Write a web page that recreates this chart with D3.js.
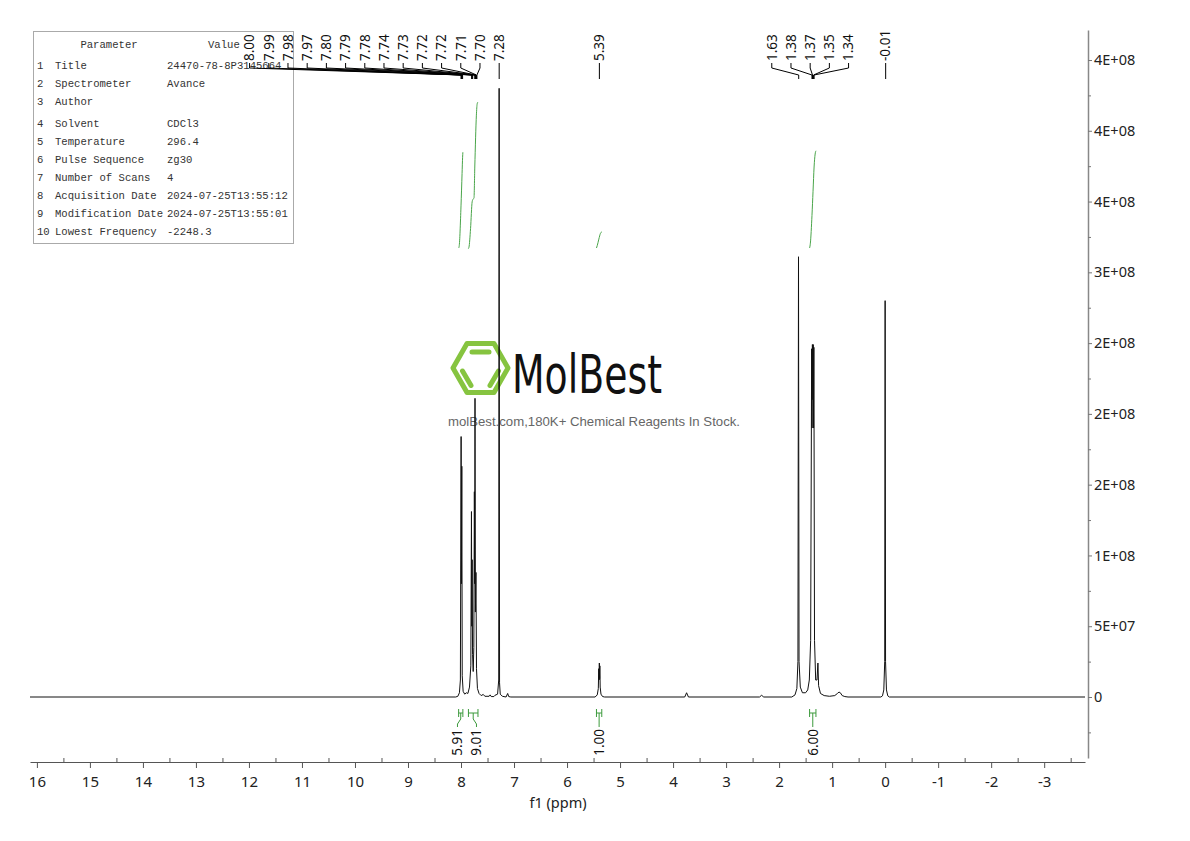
<!DOCTYPE html>
<html>
<head>
<meta charset="utf-8">
<script src="https://cdn.jsdelivr.net/npm/d3@7"></script>
<style>
  body { margin: 0; background: #fff; }
  text { font-family: "Noto Sans", "DejaVu Sans", sans-serif; }
</style>
</head>
<body>
<svg id="chart" width="1190" height="841"></svg>
<script>
// ---- spectrum trace: [ppm, intensity]
const aromaticTrace = [
  [8.10, 0], [8.06, 0.5e6], [8.03, 3e6], [8.012, 1.2e7], [7.998, 1.84e8], [7.992, 8e7],
  [7.985, 1.63e8], [7.977, 1.5e7], [7.96, 4e6], [7.93, 2e6], [7.90, 3e6], [7.87, 2.5e6],
  [7.84, 7e6], [7.815, 2.2e7], [7.803, 1.31e8], [7.797, 5e7], [7.790, 9.7e7], [7.782, 3e7],
  [7.770, 1.8e7], [7.758, 3.5e7], [7.748, 1.45e8], [7.742, 8e7], [7.736, 2.11e8], [7.729, 6e7],
  [7.718, 8.8e7], [7.708, 2e7], [7.69, 6e6], [7.66, 2.5e6], [7.62, 1e6], [7.58, 1.8e6],
  [7.55, 0.5e6], [7.47, 0.5e6], [7.45, 1.5e6], [7.43, 0.3e6], [7.38, 0.3e6], [7.36, 1.2e6]
]
const solventTrace = [
  [7.31, 2e6], [7.289, 1.2e7], [7.281, 4.30e8], [7.273, 1.0e7], [7.26, 2e6], [7.22, 0.5e6],
  [7.15, 0], [7.12, 2.5e6], [7.10, 0.3e6], [7.06, 0]
]
const olefinTrace = [
  [5.47, 0], [5.43, 1.5e6], [5.41, 6e6], [5.402, 2.0e7], [5.396, 1.2e7], [5.391, 2.4e7],
  [5.386, 1.3e7], [5.381, 2.2e7], [5.375, 7e6], [5.36, 2e6], [5.33, 0.3e6], [5.29, 0]
]
const impurityTrace = [
  [3.78, 0], [3.745, 3e6], [3.71, 0], [2.37, 0], [2.33, 1.2e6], [2.29, 0]
]
const aliphaticTrace = [
  [1.76, 0], [1.70, 1.5e6], [1.665, 6e6], [1.645, 2.5e7], [1.634, 3.11e8], [1.624, 2.5e7],
  [1.60, 7e6], [1.56, 3e6], [1.50, 3e6], [1.46, 5e6], [1.43, 1.2e7], [1.405, 4e7],
  [1.386, 2.46e8], [1.378, 1.9e8], [1.372, 2.49e8], [1.362, 2.1e8], [1.356, 2.49e8],
  [1.350, 1.9e8], [1.344, 2.47e8], [1.332, 4e7], [1.31, 1.2e7], [1.285, 1.2e7],
  [1.268, 2.4e7], [1.255, 8e6], [1.22, 2.5e6], [1.15, 1e6], [1.05, 0.5e6], [0.95, 1e6],
  [0.90, 2.5e6], [0.87, 3.5e6], [0.845, 3e6], [0.81, 1e6], [0.76, 0.3e6], [0.70, 0]
]
const tmsTrace = [
  [0.08, 0], [0.05, 0.8e6], [0.025, 5e6], [0.008, 2.5e7], [0.0, 2.80e8], [-0.008, 2.5e7],
  [-0.025, 5e6], [-0.05, 0.8e6], [-0.08, 0]
]

// ---- peak picking labels
const peakLabels = ['8.00', '7.99', '7.98', '7.97', '7.80', '7.79', '7.78', '7.74', '7.73',
  '7.72', '7.72', '7.71', '7.70', '7.28', '5.39', '1.63', '1.38', '1.37', '1.35', '1.34', '-0.01']

// ---- integrals
const integralLabels = ['5.91', '9.01', '1.00', '6.00']
const integralRanges = [[8.045, 7.965], [7.86, 7.68], [5.445, 5.345], [1.425, 1.305]]
const integralCurves = [
  [[8.045, 0], [8.035, 0.1], [8.0, 2.6], [7.98, 4.6], [7.97, 5.6], [7.965, 5.91]],
  [[7.865, -0.05], [7.85, 0.05], [7.82, 1.2], [7.79, 2.85], [7.775, 3.0], [7.755, 3.1],
   [7.74, 5.0], [7.71, 8.2], [7.695, 8.9], [7.68, 9.01]],
  [[5.445, 0], [5.43, 0.15], [5.40, 0.55], [5.37, 0.9], [5.345, 1.0]],
  [[1.425, 0], [1.41, 0.3], [1.38, 2.0], [1.36, 3.5], [1.34, 5.0], [1.32, 5.8], [1.305, 6.0]]
]

// ---- axes
const ppmTicks = [16, 15, 14, 13, 12, 11, 10, 9, 8, 7, 6, 5, 4, 3, 2, 1, 0, -1, -2, -3]
const ppmMinorTicks = [15.5, 14.5, 13.5, 12.5, 11.5, 10.5, 9.5, 8.5, 7.5, 6.5, 5.5, 4.5, 3.5,
  2.5, 1.5, 0.5, -0.5, -1.5, -2.5, -3.5]
const yTickValues = [0, 5e7, 1e8, 1.5e8, 2e8, 2.5e8, 3e8, 3.5e8, 4e8, 4.5e8]
const yTickLabels = ['0', '5E+07', '1E+08', '2E+08', '2E+08', '2E+08', '3E+08', '4E+08', '4E+08', '4E+08']
const yMinorTicks = [-2.5e7, 2.5e7, 7.5e7, 1.25e8, 1.75e8, 2.25e8, 2.75e8, 3.25e8, 3.75e8, 4.25e8]

// ---- parameter table
const tableIndex = ['1', '2', '3', '4', '5', '6', '7', '8', '9', '10']
const tableNames = ['Title', 'Spectrometer', 'Author', 'Solvent', 'Temperature', 'Pulse Sequence',
  'Number of Scans', 'Acquisition Date', 'Modification Date', 'Lowest Frequency']
const tableValues = ['24470-78-8P3145664', 'Avance', '', 'CDCl3', '296.4', 'zg30', '4',
  '2024-07-25T13:55:12', '2024-07-25T13:55:01', '-2248.3']

const svg = d3.select('#chart')
const x = d3.scaleLinear().domain([16.13, -3.77]).range([30, 1085])
const y = d3.scaleLinear().domain([0, 4.5e8]).range([697, 60])
const yInt = d3.scaleLinear().domain([0, 10]).range([248, 86])

// spread overlapping labels: chain groups, centre them, push left if they hit the right neighbour
function spreadLabels(xs, gap) {
  const order = xs.map((v, i) => i).sort((a, b) => xs[a] - xs[b])
  const groups = []
  order.forEach(i => {
    const g = groups[groups.length - 1]
    if (g && xs[i] - xs[g[g.length - 1]] < gap) g.push(i)
    else groups.push([i])
  })
  const out = new Array(xs.length)
  let rightLimit = Infinity
  for (let k = groups.length - 1; k >= 0; k--) {
    const g = groups[k]
    const mean = d3.mean(g, i => xs[i])
    let start = mean - (g.length - 1) * gap / 2
    const end = start + (g.length - 1) * gap
    if (end > rightLimit - gap) start -= end - (rightLimit - gap)
    g.forEach((i, j) => { out[i] = start + j * gap })
    rightLimit = start
  }
  return out
}

// ---- parameter table (under everything else)
const gt = svg.append('g').style('font-family', '"Liberation Mono", "DejaVu Sans Mono", monospace')
gt.append('rect').attr('x', 33.5).attr('y', 31.5).attr('width', 260).attr('height', 212)
  .attr('fill', 'none').attr('stroke', '#aaa').attr('stroke-width', 1)
const rowY = [65, 83, 101, 123, 141, 159, 177, 195, 213, 231]
gt.append('text').attr('x', 109).attr('y', 48).attr('text-anchor', 'middle')
  .attr('font-size', 10.6).attr('fill', '#333').style('font-family', 'inherit').text('Parameter')
gt.append('text').attr('x', 208).attr('y', 48)
  .attr('font-size', 10.6).attr('fill', '#333').style('font-family', 'inherit').text('Value')
tableNames.forEach((n, i) => {
  const ty = rowY[i] + 4
  gt.append('text').attr('x', 37).attr('y', ty).attr('font-size', 10.6).attr('fill', '#333')
    .style('font-family', 'inherit').text(tableIndex[i])
  gt.append('text').attr('x', 55).attr('y', ty).attr('font-size', 10.6).attr('fill', '#333')
    .style('font-family', 'inherit').text(n)
  gt.append('text').attr('x', 167).attr('y', ty).attr('font-size', 10.6).attr('fill', '#333')
    .style('font-family', 'inherit').text(tableValues[i])
})

// ---- watermark
const wm = svg.append('g')
const hex = d3.path()
hex.moveTo(453, 368); hex.lineTo(467, 343.5); hex.lineTo(494, 343.5)
hex.lineTo(508, 368); hex.lineTo(494, 392.5); hex.lineTo(467, 392.5); hex.closePath()
hex.moveTo(472, 352); hex.lineTo(489, 352)
hex.moveTo(462.5, 371); hex.lineTo(471, 385.5)
hex.moveTo(498.5, 371); hex.lineTo(490, 385.5)
wm.append('path').attr('d', hex.toString())
  .attr('fill', 'none').attr('stroke', '#86c440').attr('stroke-width', 5)
  .attr('stroke-linejoin', 'round').attr('stroke-linecap', 'round')
wm.append('text').attr('x', 512).attr('y', 393)
  .attr('font-size', 54).attr('fill', '#111')
  .attr('textLength', 150).attr('lengthAdjust', 'spacingAndGlyphs')
  .style('font-family', '"DejaVu Sans", sans-serif')
  .text('MolBest')
wm.append('text').attr('x', 448).attr('y', 426)
  .attr('font-size', 13).attr('fill', '#666')
  .attr('textLength', 292).attr('lengthAdjust', 'spacingAndGlyphs')
  .style('font-family', '"Liberation Sans", Arial, sans-serif')
  .text('molBest.com,180K+ Chemical Reagents In Stock.')

// ---- integral curves
integralCurves.forEach(c => {
  svg.append('path').datum(c)
    .attr('d', d3.line().x(d => x(d[0])).y(d => yInt(d[1])).curve(d3.curveMonotoneX))
    .attr('fill', 'none').attr('stroke', '#4aa54a').attr('stroke-width', 1)
})

// ---- spectrum
const trace = [[16.13, 0], [-3.77, 0]]
  .concat(aromaticTrace, solventTrace, olefinTrace, impurityTrace, aliphaticTrace, tmsTrace)
  .sort((a, b) => b[0] - a[0])
svg.append('path').datum(trace)
  .attr('d', d3.line().x(d => x(d[0])).y(d => y(d[1])))
  .attr('fill', 'none').attr('stroke', '#111').attr('stroke-width', 1)
  .attr('stroke-linejoin', 'round')

// ---- bottom axis
const gx = svg.append('g').attr('transform', 'translate(0,762)')
  .call(d3.axisBottom(x).tickValues(ppmTicks).tickFormat(d => String(d)).tickSize(6).tickSizeOuter(0))
gx.select('.domain').attr('stroke', '#555').attr('stroke-width', 1.2)
gx.selectAll('.tick line').attr('stroke', '#555')
gx.selectAll('.tick text').attr('y', 14).attr('font-size', 15).attr('fill', '#222')
  .style('font-family', '"Noto Sans", sans-serif')
const gxm = svg.append('g').attr('transform', 'translate(0,762)')
  .call(d3.axisBottom(x).tickValues(ppmMinorTicks).tickFormat('').tickSize(-4).tickSizeOuter(0))
gxm.select('.domain').remove()
gxm.selectAll('.tick line').attr('stroke', '#555')
svg.append('text').attr('x', 558).attr('y', 808).attr('text-anchor', 'middle')
  .attr('font-size', 14.5).attr('fill', '#222').text('f1 (ppm)')

// ---- right axis
const yAxisScale = d3.scaleLinear().domain([y.invert(758), y.invert(30)]).range([758, 30])
const gy = svg.append('g').attr('transform', 'translate(1088,0)')
  .call(d3.axisRight(yAxisScale).tickValues(yTickValues).tickFormat((d, i) => yTickLabels[i])
    .tickSize(4).tickSizeOuter(0))
gy.select('.domain').attr('stroke', '#888').attr('stroke-width', 1.5)
gy.selectAll('.tick line').attr('stroke', '#777')
gy.selectAll('.tick text').attr('x', 6).attr('font-size', 14.5).attr('fill', '#222')
  .style('font-family', '"Noto Sans", sans-serif')
const gym = svg.append('g').attr('transform', 'translate(1088,0)')
  .call(d3.axisRight(yAxisScale).tickValues(yMinorTicks).tickFormat('').tickSize(3).tickSizeOuter(0))
gym.select('.domain').remove()
gym.selectAll('.tick line').attr('stroke', '#777')

// ---- peak labels
const peakX = peakLabels.map(t => x(parseFloat(t)))
const peakLabelX = spreadLabels(peakX, 19.2)
const gp = svg.append('g')
peakLabels.forEach((t, i) => {
  const lx = peakLabelX[i], px = peakX[i]
  gp.append('path')
    .attr('d', `M${lx},63V68L${px},75V79`)
    .attr('fill', 'none').attr('stroke', '#000').attr('stroke-width', 1)
  gp.append('text')
    .attr('transform', `translate(${lx},61) rotate(-90)`)
    .attr('dy', '0.35em').attr('font-size', 13.5).attr('fill', '#111')
    .text(t)
})

// ---- integral brackets and values
const intMidX = integralRanges.map(r => x((r[0] + r[1]) / 2))
const intLabelX = spreadLabels(intMidX, 19)
const gi = svg.append('g')
integralRanges.forEach((r, i) => {
  const x1 = x(r[0]), x2 = x(r[1])
  gi.append('path')
    .attr('d', `M${x1},709V717M${x1},713H${x2}M${x2},709V717`)
    .attr('fill', 'none').attr('stroke', '#3c9a3c').attr('stroke-width', 1)
  gi.append('path')
    .attr('d', `M${intMidX[i]},713V719L${intLabelX[i]},724V727`)
    .attr('fill', 'none').attr('stroke', '#3c9a3c').attr('stroke-width', 1)
  gi.append('text')
    .attr('transform', `translate(${intLabelX[i]},729) rotate(-90)`)
    .attr('dy', '0.35em').attr('text-anchor', 'end').attr('font-size', 13.5).attr('fill', '#111')
    .text(integralLabels[i])
})
</script>
</body>
</html>
